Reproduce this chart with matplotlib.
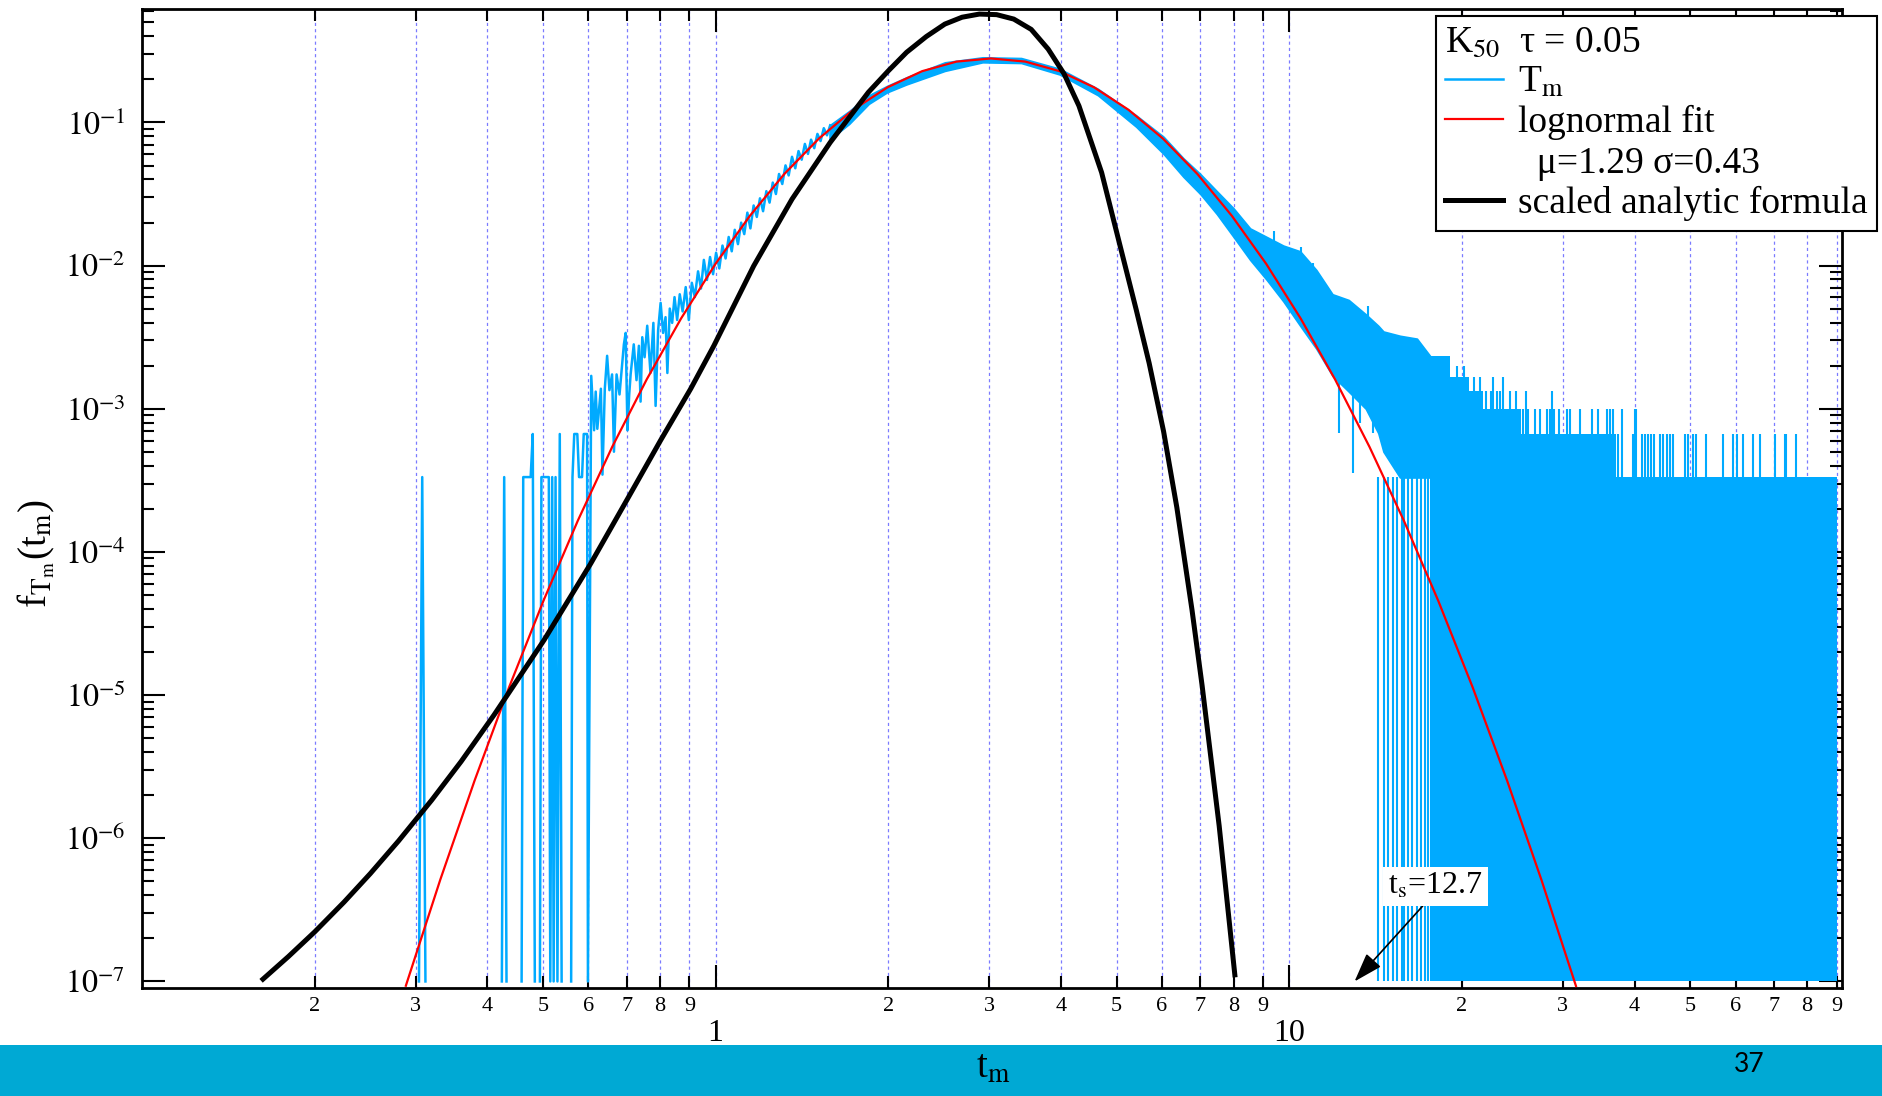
import matplotlib
matplotlib.use('Agg')
import matplotlib.pyplot as plt
from matplotlib.lines import Line2D
from matplotlib.patches import Rectangle
from matplotlib.ticker import NullFormatter

plt.rcParams['font.family'] = ['Liberation Serif', 'DejaVu Serif']
plt.rcParams['mathtext.fontset'] = 'stix'

# one count in a bin, and the value the empty bins are drawn at
ONE_COUNT = 1.0 / 3000.0
FLOOR = 1e-7

# T_m histogram, sparse left tail: bin position and counts
sparse_t = [0.304, 0.308, 0.312, 0.424, 0.428, 0.432, 0.459, 0.462, 0.468, 0.476,
            0.480, 0.484, 0.494, 0.497, 0.505, 0.512, 0.515, 0.519, 0.522, 0.526,
            0.530, 0.535, 0.539, 0.545, 0.560, 0.563, 0.567, 0.574, 0.578, 0.585,
            0.589, 0.594, 0.597, 0.599]
sparse_k = [0, 1, 0, 0, 1, 0, 0, 1, 1, 1,
            2, 0, 0, 1, 1, 1, 0, 1, 0, 1,
            0, 2, 0, 0, 0, 1, 2, 2, 1, 1,
            2, 2, 2, 0]

# T_m, noisy rising part (t, log10 f)
zig_t = [0.607, 0.614, 0.618, 0.622, 0.631, 0.635, 0.641, 0.647, 0.653, 0.660,
         0.665, 0.672, 0.680, 0.692, 0.697, 0.702, 0.707, 0.711, 0.720, 0.728,
         0.735, 0.740, 0.745, 0.752, 0.760, 0.770, 0.779, 0.786, 0.794, 0.802,
         0.810, 0.818, 0.824, 0.832, 0.840, 0.848, 0.857, 0.866, 0.876, 0.887,
         0.898, 0.909, 0.920, 0.932, 0.943, 0.954, 0.966, 0.978, 0.990, 1.002,
         1.015, 1.028, 1.041, 1.054, 1.067, 1.080, 1.094, 1.108, 1.122, 1.136,
         1.150, 1.165, 1.180, 1.195, 1.210, 1.226, 1.242, 1.258, 1.274, 1.290,
         1.307, 1.324, 1.341, 1.359, 1.377, 1.395, 1.413, 1.431, 1.449, 1.467,
         1.486, 1.505, 1.524, 1.544, 1.564, 1.584]
zig_logf = [-2.77, -3.15, -2.88, -3.14, -2.86, -3.46, -2.86, -2.63, -2.87, -2.76,
            -3.30, -2.76, -2.90, -2.55, -2.47, -3.15, -2.90, -2.76, -2.55, -2.80,
            -2.56, -2.95, -2.50, -2.64, -2.42, -2.75, -2.40, -2.98, -2.45, -2.26,
            -2.47, -2.36, -2.75, -2.30, -2.40, -2.22, -2.38, -2.20, -2.32, -2.15,
            -2.38, -2.12, -2.22, -2.04, -2.16, -1.96, -2.10, -1.94, -2.06, -1.91,
            -2.02, -1.86, -1.95, -1.80, -1.90, -1.75, -1.85, -1.70, -1.78, -1.63,
            -1.74, -1.58, -1.66, -1.53, -1.62, -1.48, -1.56, -1.42, -1.50, -1.36,
            -1.43, -1.30, -1.37, -1.24, -1.32, -1.20, -1.26, -1.15, -1.22, -1.12,
            -1.18, -1.08, -1.13, -1.04, -1.09, -1.02]

# T_m, dense band: upper and lower edge (log10 f)
band_t = [1.58, 1.71, 1.85, 1.99, 2.15, 2.51, 2.92, 3.41, 3.98, 4.64,
          5.41, 6.04, 6.54, 7.0, 7.48, 8.0, 8.55, 9.14, 9.77, 10.45,
          11.15, 11.9, 12.7, 13.6, 14.3, 14.6, 15.6, 16.7, 17.6]
band_hi = [-1.02, -0.92, -0.81, -0.745, -0.685, -0.58, -0.545, -0.55, -0.625, -0.765,
           -0.95, -1.10, -1.25, -1.36, -1.48, -1.60, -1.74, -1.80, -1.86, -1.90,
           -2.03, -2.20, -2.24, -2.34, -2.42, -2.46, -2.49, -2.51, -2.63]
band_lo = [-1.12, -1.01, -0.87, -0.79, -0.735, -0.64, -0.58, -0.585, -0.665, -0.81,
           -1.03, -1.22, -1.38, -1.50, -1.64, -1.80, -1.96, -2.10, -2.25, -2.42,
           -2.58, -2.77, -2.88, -3.0, -3.17, -3.30, -3.48, -3.48, -3.48]

# spikes out of the band
spike_t = [9.4, 10.5, 11.0, 11.5, 12.2, 12.9, 13.3, 13.7, 14.0]
spike_lo = [-1.95, -2.25, -2.45, -2.50, -3.17, -3.45, -3.10, -2.90, -3.17]
spike_hi = [-1.76, -1.87, -1.98, -2.14, -2.40, -2.45, -2.36, -2.28, -2.40]

# one-count bins between empty ones where the tail starts
stripe_t = [14.29, 14.62, 14.84, 15.17, 15.40, 15.75, 15.87, 16.10, 16.35,
            16.72, 16.97, 17.22, 17.48]

# tail: solid blocks, counts reached by every bin between two edges
tail_edges = [17.6, 19.1, 20.6, 21.8, 25.4, 37.1, 90.1]
tail_counts = [7, 5, 4, 3, 2, 1]

# tail: single bins going higher
tail_spike_t = [19.6, 20.2,
                21.0, 21.5, 22.7, 23.6,
                22.0, 22.5, 23.0, 23.3, 24.3, 24.9, 25.9, 28.7,
                25.6, 26.1, 26.8, 27.4, 28.1, 28.5, 28.9, 29.5, 30.5, 30.9,
                32.1, 33.7, 34.6, 35.8, 36.2, 36.7, 38.0, 40.1, 40.3,
                37.4, 39.8, 41.2, 41.7, 42.3, 42.8, 43.2, 44.3, 44.9, 45.5,
                46.1, 46.6, 49.0, 49.6, 50.6, 51.3, 53.4, 57.1, 59.4, 60.3,
                61.9, 64.4, 66.2, 70.3, 73.1, 73.6, 76.6]
tail_spike_k = [6, 6,
                5, 5, 5, 5,
                4, 4, 4, 4, 4, 4, 4, 4,
                3, 3, 3, 3, 3, 3, 3, 3, 3, 3,
                3, 3, 3, 3, 3, 3, 3, 3, 3,
                2, 2, 2, 2, 2, 2, 2, 2, 2, 2,
                2, 2, 2, 2, 2, 2, 2, 2, 2, 2,
                2, 2, 2, 2, 2, 2, 2]

# lognormal fit (mu=1.29, sigma=0.43)
fit_t = [0.2884, 0.3311, 0.3802, 0.4365, 0.5012, 0.5754, 0.6607, 0.7586, 0.8710, 1.0,
         1.1482, 1.3183, 1.5136, 1.7378, 1.9953, 2.2909, 2.6303, 3.0200, 3.4674, 3.9811,
         4.5709, 5.2481, 6.0256, 6.9183, 7.9433, 9.1201, 10.471, 12.023, 13.804, 15.849,
         18.197, 20.893, 23.988, 27.542, 31.623]
fit_logf = [-7.030, -6.290, -5.595, -4.945, -4.340, -3.780, -3.264, -2.794, -2.368, -1.987,
            -1.651, -1.359, -1.113, -0.911, -0.754, -0.642, -0.575, -0.553, -0.575, -0.642,
            -0.755, -0.912, -1.113, -1.360, -1.652, -1.988, -2.369, -2.795, -3.266, -3.782,
            -4.342, -4.947, -5.598, -6.293, -7.032]

# scaled analytic formula
ana_t = [0.1625, 0.18, 0.2, 0.225, 0.25, 0.28, 0.32, 0.36, 0.411, 0.502,
         0.606, 0.702, 0.802, 0.905, 0.993, 1.165, 1.359, 1.584, 1.846, 2.0,
         2.153, 2.33, 2.51, 2.69, 2.883, 3.09, 3.31, 3.55, 3.80, 4.05,
         4.30, 4.71, 5.09, 5.41, 5.70, 6.04, 6.37, 6.77, 7.05, 7.55,
         8.04]
ana_logf = [-6.984, -6.826, -6.654, -6.446, -6.247, -6.019, -5.733, -5.464, -5.138, -4.617,
            -4.08, -3.63, -3.22, -2.86, -2.56, -2.003, -1.536, -1.140, -0.790, -0.640,
            -0.510, -0.400, -0.313, -0.265, -0.243, -0.247, -0.278, -0.35, -0.4875, -0.66,
            -0.884, -1.350, -1.886, -2.306, -2.681, -3.158, -3.689, -4.405, -4.933, -5.913,
            -6.954]

xminor = [0.2, 0.3, 0.4, 0.5, 0.6, 0.7, 0.8, 0.9,
          2, 3, 4, 5, 6, 7, 8, 9,
          20, 30, 40, 50, 60, 70, 80, 90]
xminor_labels = ['2', '3', '4', '5', '6', '7', '8', '9'] * 3
ymajor = [1e-7, 1e-6, 1e-5, 1e-4, 1e-3, 1e-2, 1e-1]
ymajor_labels = ['$10^{-7}$', '$10^{-6}$', '$10^{-5}$', '$10^{-4}$',
                 '$10^{-3}$', '$10^{-2}$', '$10^{-1}$']

blue = '#00AAFF'

fig = plt.figure(figsize=(18.83, 10.96), dpi=100)
ax = fig.add_axes([142 / 1883, 1 - 988 / 1096, 1700 / 1883, 979 / 1096])
ax.set_xscale('log')
ax.set_yscale('log')

# T_m: empty bins next to each other are not joined along the bottom
left_t, left_f = [], []
prev = None
for t, k in zip(sparse_t, sparse_k):
    if k == 0 and prev == 0:
        left_t.append(float('nan'))
        left_f.append(float('nan'))
    left_t.append(t)
    left_f.append(max(k * ONE_COUNT, FLOOR))
    prev = k
left_t += zig_t
left_f += [10 ** v for v in zig_logf]
ax.plot(left_t, left_f, color=blue, lw=1.8, zorder=2)
ax.fill_between(band_t, [10 ** v for v in band_lo], [10 ** v for v in band_hi],
                facecolor=blue, edgecolor=blue, lw=1.2, zorder=2)
ax.vlines(spike_t, [10 ** v for v in spike_lo], [10 ** v for v in spike_hi],
          color=blue, lw=1.5, zorder=2)
ax.vlines(stripe_t, FLOOR, ONE_COUNT, color=blue, lw=1.5, zorder=2)
tops = [k * ONE_COUNT for k in tail_counts]
ax.fill_between(tail_edges, FLOOR, tops + [tops[-1]], step='post',
                facecolor=blue, lw=0, zorder=2)
ax.vlines(tail_spike_t, FLOOR, [k * ONE_COUNT for k in tail_spike_k],
          color=blue, lw=1.5, zorder=2)

# fit and formula
ax.plot(fit_t, [10 ** v for v in fit_logf], color='red', lw=1.6, zorder=3)
ax.plot(ana_t, [10 ** v for v in ana_logf], color='black', lw=3.6, zorder=4)

ax.set_xlim(0.1, 92)
ax.set_ylim(9e-8, 0.62)

ax.set_xticks([1, 10], labels=['1', '10'])
ax.set_xticks(xminor, labels=xminor_labels, minor=True)
ax.set_yticks(ymajor, labels=ymajor_labels)
ax.set_yticks([m * 10.0 ** e for e in range(-7, 0) for m in range(2, 10)
               if m * 10.0 ** e < 0.62], minor=True)
ax.yaxis.set_minor_formatter(NullFormatter())

ax.tick_params(which='both', direction='in', top=True, right=True)
ax.tick_params(which='major', length=16.5, width=1.5)
ax.tick_params(which='minor', length=8.5, width=1.5)
ax.tick_params(axis='x', which='major', labelsize=23, pad=22)
ax.tick_params(axis='x', which='minor', labelsize=16, pad=6.5)
ax.tick_params(axis='y', which='major', labelsize=23, pad=12)
for s in ax.spines.values():
    s.set_linewidth(2)

ax.set_axisbelow(True)
ax.grid(True, axis='x', which='both', color='#7b7bff', lw=0.9, ls=(0, (2.5, 2.5)))

ax.annotate(r't$_\mathrm{s}$=12.7', xy=(13.0, 1.0e-7), xytext=(18.0, 4.6e-7),
            fontsize=23, ha='center', va='center', zorder=6,
            bbox=dict(boxstyle='square,pad=0.15', fc='white', ec='none'),
            arrowprops=dict(arrowstyle='-|>,head_length=0.9,head_width=0.3',
                            mutation_scale=20, color='black', lw=1.2,
                            shrinkA=0, shrinkB=0, relpos=(0.41, 0.0)))

handles = [Line2D([], [], color=blue, lw=1.8),
           Line2D([], [], color='red', lw=1.6),
           Line2D([], [], color='none'),
           Line2D([], [], color='black', lw=3.6)]
labels = [r'T$_\mathrm{m}$', 'lognormal fit', '  μ=1.29 σ=0.43', 'scaled analytic formula']
leg = ax.legend(handles, labels, loc='upper right',
                bbox_to_anchor=(1877.3 / 1883, 1 - 15.7 / 1096),
                bbox_transform=fig.transFigure, fontsize=27,
                title=r'K$_{50}$  τ = 0.05', title_fontsize=27, alignment='left',
                frameon=True, fancybox=False, edgecolor='black', framealpha=1,
                borderpad=0.25, labelspacing=0.15, handlelength=1.55,
                handletextpad=0.4, borderaxespad=0)
leg.get_frame().set_linewidth(1.5)
leg.set_zorder(10)

# slide footer bar
fig.add_artist(Rectangle((0, 0), 1, 51 / 1096, transform=fig.transFigure,
                         facecolor='#00A9D4', edgecolor='none', zorder=0))
fig.text(993 / 1883, 1 - 1068 / 1096, r't$_\mathrm{m}$', fontsize=28,
         ha='center', va='center', zorder=5)
fig.text(1749 / 1883, 1 - 1064 / 1096, '37', family=['Lato', 'DejaVu Sans'],
         fontsize=19, ha='center', va='center', zorder=5)
fig.text(36 / 1883, 1 - 554 / 1096, r'f$_{\mathrm{T}_\mathrm{m}}$(t$_\mathrm{m}$)',
         rotation=90, fontsize=28, ha='center', va='center')

fig.savefig('out.png', dpi=100)
